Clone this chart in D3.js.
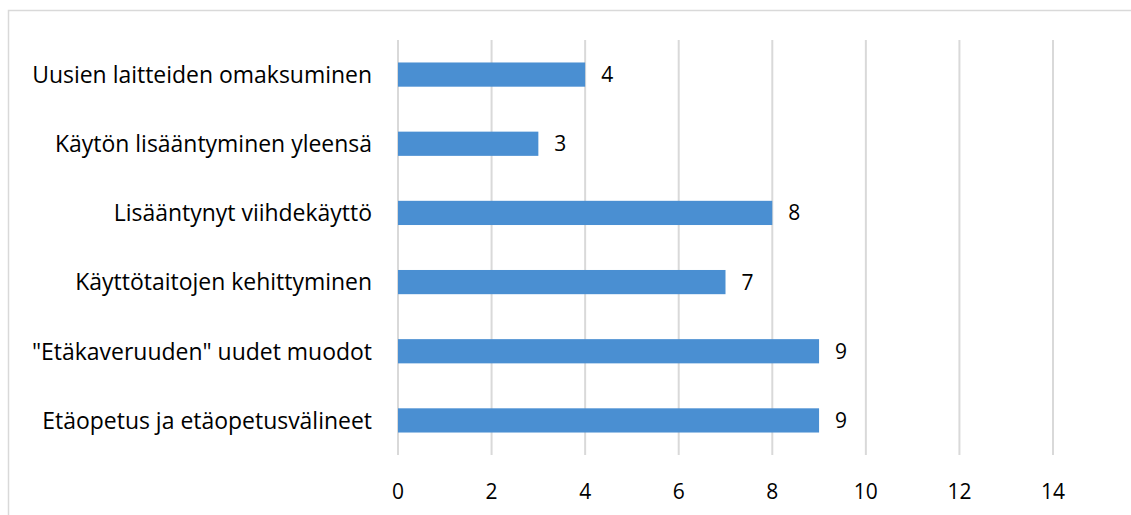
<!DOCTYPE html>
<html><head><meta charset="utf-8">
<script src="https://cdn.jsdelivr.net/npm/d3@7"></script>
<style>html,body{margin:0;padding:0;background:#fff;}</style>
</head><body>
<svg id="c" width="1131" height="515"></svg>
<script>
const categories = ["Uusien laitteiden omaksuminen","Käytön lisääntyminen yleensä","Lisääntynyt viihdekäyttö","Käyttötaitojen kehittyminen","\"Etäkaveruuden\" uudet muodot","Etäopetus ja etäopetusvälineet"];
const values = [4,3,8,7,9,9];
const xTicks = [0,2,4,6,8,10,12,14];

const svg = d3.select("#c");
const font = "'Open Sans', 'Noto Sans', sans-serif";
svg.append("rect").attr("x",8.5).attr("y",10.5).attr("width",1140).attr("height",520)
  .attr("fill","#fff").attr("stroke","#d9d9d9").attr("stroke-width",1.5);

const x = d3.scaleLinear().domain([0,14]).range([398,1053]);
const y = d3.scaleBand().domain(categories).range([40,455]).paddingInner(0.65).paddingOuter(0.325);

const g = svg.append("g");
g.selectAll("line.grid").data(xTicks).join("line").attr("class","grid")
  .attr("x1",d=>x(d)).attr("x2",d=>x(d)).attr("y1",40).attr("y2",455)
  .attr("stroke","#d9d9d9").attr("stroke-width",2);

g.selectAll("rect.bar").data(values).join("rect").attr("class","bar")
  .attr("x",x(0)).attr("y",(d,i)=>y(categories[i]))
  .attr("width",d=>x(d)-x(0)).attr("height",y.bandwidth())
  .attr("fill","#4a8fd2");

g.selectAll("text.val").data(values).join("text").attr("class","val")
  .attr("x",d=>x(d)+16).attr("y",(d,i)=>y(categories[i])+y.bandwidth()/2)
  .attr("dy","0.36em").attr("font-family",font).attr("font-size",21).attr("fill","#000")
  .text(d=>d);

const cats = g.selectAll("text.cat").data(categories).join("text").attr("class","cat")
  .attr("x",372).attr("y",d=>y(d)+y.bandwidth()/2).attr("dy","0.36em")
  .attr("text-anchor","end").attr("font-family",font).attr("font-size",20).attr("fill","#000")
  .text(d=>d);
// fit font size so first label spans its width in the reference
const w0 = cats.node().getComputedTextLength();
const fs = 20 * 340 / w0;
cats.attr("font-size", fs);

g.selectAll("text.tick").data(xTicks).join("text").attr("class","tick")
  .attr("x",d=>x(d)).attr("y",491).attr("dy","0.36em").attr("text-anchor","middle")
  .attr("font-family",font).attr("font-size",21).attr("fill","#000").text(d=>d);
</script>
</body></html>
